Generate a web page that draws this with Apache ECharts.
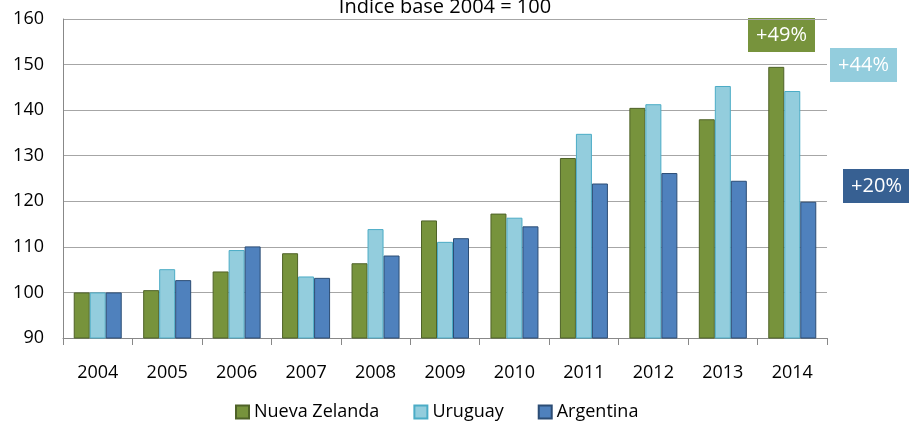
<!DOCTYPE html>
<html>
<head>
<meta charset="utf-8">
<script src="https://cdn.jsdelivr.net/npm/echarts@6/dist/echarts.min.js"></script>
<style>
  html, body { margin: 0; padding: 0; background: #fff; }
  #chart { width: 909px; height: 427px; }
</style>
</head>
<body>
<div id="chart"></div>
<script>
const years = ['2004', '2005', '2006', '2007', '2008', '2009', '2010', '2011', '2012', '2013', '2014']
const nuevaZelanda = [100, 100.5, 104.6, 108.6, 106.4, 115.8, 117.3, 129.5, 140.5, 138.0, 149.5]
const uruguay = [100, 105.1, 109.3, 103.5, 113.9, 111.1, 116.4, 134.8, 141.3, 145.3, 144.2]
const argentina = [100, 102.7, 110.1, 103.2, 108.1, 111.9, 114.5, 123.9, 126.2, 124.5, 119.9]
const badges = ['+49%', '+44%', '+20%']

const font = '"Open Sans", "Liberation Sans", sans-serif'
const chart = echarts.init(document.getElementById('chart'))

const bar = (name, data, color, border) => ({
  name,
  type: 'bar',
  data,
  barWidth: 16,
  barGap: '0%',
  itemStyle: { color, borderColor: border, borderWidth: 1 }
})

const badge = (text, left, top, fill) => ({
  type: 'group',
  left, top,
  children: [
    { type: 'rect', shape: { x: 0, y: 0, width: 67, height: 34 }, style: { fill } },
    {
      type: 'text', x: 33.5, y: 17,
      style: { text, fill: '#fff', font: `20px ${font}`, textAlign: 'center', textVerticalAlign: 'middle' }
    }
  ]
})

chart.setOption({
  animation: false,
  title: {
    text: 'Indice base 2004 = 100',
    left: 440, top: -8,
    textAlign: 'center',
    textStyle: { fontFamily: font, fontSize: 20, fontWeight: 'normal', color: '#000' }
  },
  legend: {
    bottom: 1,
    left: 230,
    itemWidth: 13, itemHeight: 13, itemGap: 34,
    icon: 'rect',
    textStyle: { fontFamily: font, fontSize: 18, color: '#000' },
    data: ['Nueva Zelanda', 'Uruguay', 'Argentina']
  },
  grid: { left: 63, right: 82, top: 19, bottom: 89 },
  xAxis: {
    type: 'category',
    data: years,
    axisLine: { lineStyle: { color: '#888', width: 1 } },
    axisTick: { show: true, length: 7, lineStyle: { color: '#888' } },
    axisLabel: { fontFamily: font, fontSize: 18, color: '#000', margin: 26 }
  },
  yAxis: {
    type: 'value',
    min: 90, max: 160, interval: 10,
    axisLine: { show: true, lineStyle: { color: '#888', width: 1 } },
    axisTick: { show: false },
    axisLabel: { fontFamily: font, fontSize: 18, color: '#000', margin: 19 },
    splitLine: { lineStyle: { color: '#a6a6a6', width: 1 } }
  },
  series: [
    bar('Nueva Zelanda', nuevaZelanda, '#77933c', '#4f6228'),
    bar('Uruguay', uruguay, '#93cddd', '#4bacc6'),
    bar('Argentina', argentina, '#4f81bd', '#2c4d75')
  ],
  graphic: [
    badge(badges[0], 748, 18, '#77933c'),
    badge(badges[1], 830, 48, '#93cddd'),
    badge(badges[2], 843, 169, '#376092')
  ]
})
</script>
</body>
</html>
